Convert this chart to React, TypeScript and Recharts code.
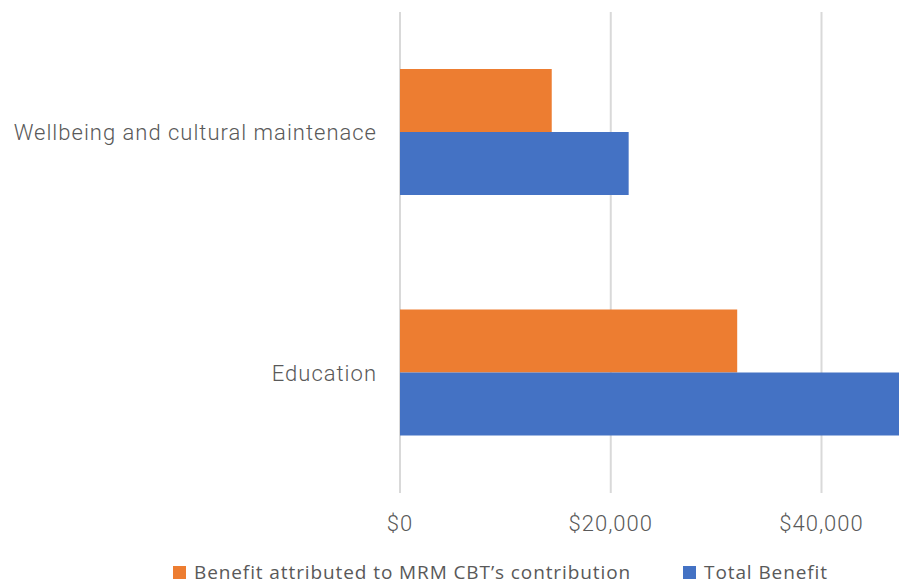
import React from 'react';
import { BarChart, Bar, XAxis, YAxis, CartesianGrid, Legend } from 'recharts';

const categories = ['Wellbeing and cultural maintenace', 'Education'];
const attributed = [14400, 32000];
const totalBenefit = [21700, 52000];
const xTicks = [0, 20000, 40000];

const data = categories.map((name, i) => ({
  name,
  attributed: attributed[i],
  total: totalBenefit[i],
}));

const axisFont = {
  fontFamily: 'Roboto, "Open Sans", sans-serif',
  fontSize: 22,
  fontWeight: 300,
  fill: '#595959',
  letterSpacing: 1,
};

const formatMoney = (v: number) => `$${v.toLocaleString('en-US')}`;

const renderLegend = (props: any) => {
  const { payload = [] } = props;
  return (
    <div
      style={{
        display: 'flex',
        alignItems: 'center',
        fontFamily: '"Open Sans", sans-serif',
        fontSize: 19,
        lineHeight: '22px',
        letterSpacing: 0.9,
        color: '#595959',
        height: 22,
        whiteSpace: 'nowrap',
      }}
    >
      {payload.map((entry: any, index: number) => (
        <div key={`item-${index}`} style={{ display: 'flex', alignItems: 'center', marginRight: 52 }}>
          <span style={{ width: 13, height: 13, background: entry.color, marginRight: 8, display: 'inline-block' }} />
          <span>{entry.value}</span>
        </div>
      ))}
    </div>
  );
};

// the picture is cut at the right edge, so the chart runs on past 899px and is clipped
const App: React.FC = () => {
  return (
    <div style={{ position: 'absolute', left: 0, top: 0, width: 899, height: 586, overflow: 'hidden', background: '#fff' }}>
      <BarChart
        width={920}
        height={586}
        data={data}
        layout="vertical"
        margin={{ top: 12, right: 0, bottom: 0, left: 0 }}
        barCategoryGap="23.7%"
        barGap={0}
      >
        <CartesianGrid horizontal={false} stroke="#d9d9d9" strokeWidth={2} />
        <XAxis
          type="number"
          domain={[0, 49347]}
          allowDataOverflow
          ticks={xTicks}
          tickFormatter={formatMoney}
          axisLine={false}
          tickLine={false}
          tickSize={0}
          tickMargin={22}
          height={71}
          tick={axisFont}
        />
        <YAxis
          type="category"
          dataKey="name"
          width={400}
          axisLine={false}
          tickLine={false}
          tickSize={0}
          tickMargin={23}
          tick={axisFont}
        />
        <Legend
          verticalAlign="bottom"
          content={renderLegend}
          wrapperStyle={{ left: 173, width: 'auto', bottom: 3 }}
        />
        <Bar
          dataKey="attributed"
          name="Benefit attributed to MRM CBT’s contribution"
          fill="#ED7D31"
          isAnimationActive={false}
        />
        <Bar
          dataKey="total"
          name="Total Benefit"
          fill="#4472C4"
          isAnimationActive={false}
        />
      </BarChart>
    </div>
  );
};

export default App;
